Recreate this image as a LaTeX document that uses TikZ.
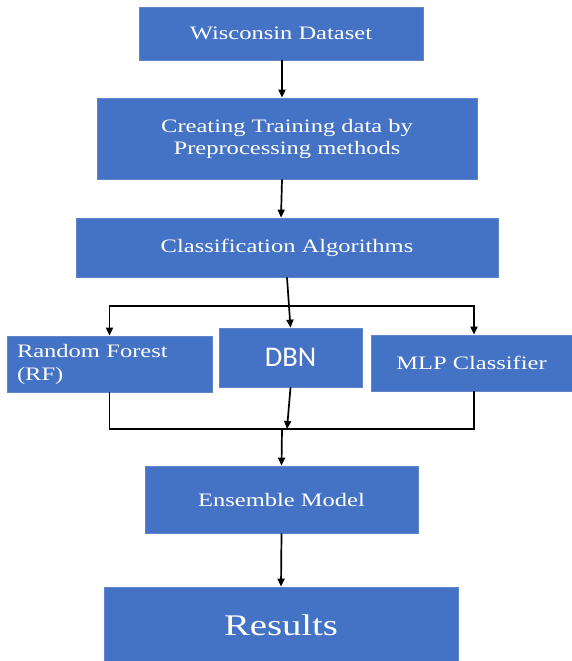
\documentclass[tikz,border=0pt]{standalone}
\usepackage{fontspec}
\setmainfont{Liberation Serif}[FakeStretch=1.29]
\newfontfamily\dbnfont{Carlito}
\usetikzlibrary{arrows.meta}
\definecolor{boxblue}{HTML}{4472C4}
\definecolor{boxedge}{HTML}{5F86CC}
\tikzset{
  box/.style={draw=boxedge, line width=0.7pt, fill=boxblue, text=white,
    inner sep=0pt, align=center, font=\fontsize{19}{22}\selectfont},
  link/.style={line width=1.7pt, draw=black},
  arr/.style={link, -{Triangle[length=8pt,width=7pt]}}
}
\begin{document}
\begin{tikzpicture}[x=1pt,y=-1pt]
\useasboundingbox (0,0) rectangle (572,661);

% process boxes, top to bottom
\node[box, minimum width=284pt, minimum height=53pt] (wis) at (281,33.5) {Wisconsin Dataset};
\node[box, minimum width=380pt, minimum height=81pt] (cre) at (287,138.5) {Creating Training data by\\Preprocessing methods};
\node[box, minimum width=422pt, minimum height=59pt] (cls) at (287,247.5) {Classification Algorithms};

% the three classifiers
\node[box, minimum width=205pt, minimum height=56pt, text width=185pt, align=left,
      font=\fontsize{19}{23}\selectfont] (rf) at (109.5,364) {Random Forest\\(RF)};
\node[box, minimum width=143pt, minimum height=59pt, font=\dbnfont\fontsize{28.5}{30}\selectfont] (dbn) at (290.5,357.5) {DBN};
\node[box, minimum width=201pt, minimum height=56pt] (mlp) at (471.5,363) {MLP Classifier};

\node[box, minimum width=273pt, minimum height=67pt] (ens) at (281.5,499.5) {Ensemble Model};
\node[box, minimum width=354pt, minimum height=76pt, font=\fontsize{30}{34}\selectfont] (res) at (281,625) {Results};

% junction points
\coordinate (split) at (287.5,306);
\coordinate (join) at (282,429);
\coordinate (dbnin) at (287,429);

% connectors
\draw[arr] ([xshift=1pt]wis.south) -- ([xshift=-5pt]cre.north);
\draw[arr] ([xshift=-5pt]cre.south) -- ([xshift=-6pt]cls.north);
\draw[arr] (cls.south) -- (dbn.north);
\draw[arr] (split) -| (rf.north);
\draw[arr] (split) -| ([xshift=2.5pt]mlp.north);
\draw[link] (rf.south) |- (join);
\draw[link] ([xshift=2.5pt]mlp.south) |- (join);
\draw[arr] (dbn.south) -- (dbnin);
\draw[arr] (join) -- (ens.north);
\draw[arr] (ens.south) -- (res.north);
\end{tikzpicture}
\end{document}
